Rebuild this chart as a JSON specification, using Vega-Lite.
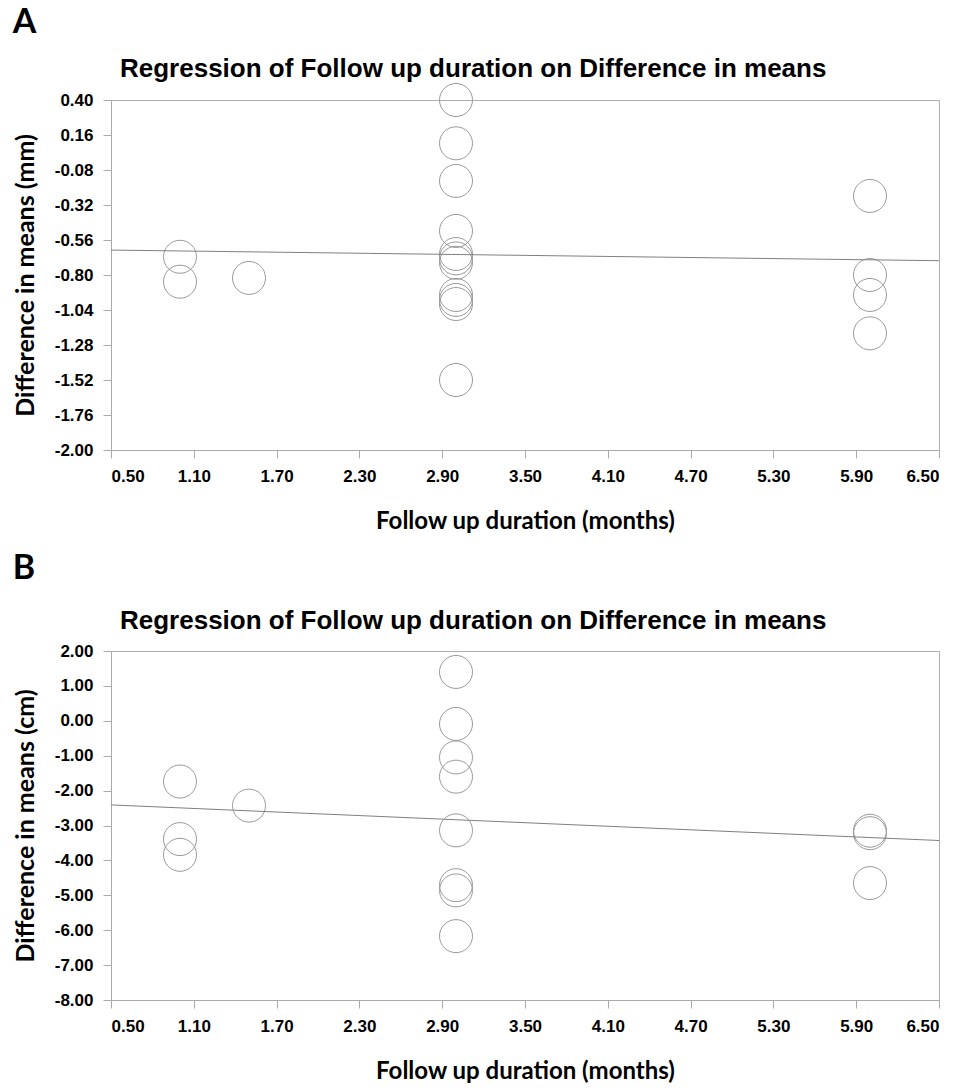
{
  "$schema": "https://vega.github.io/schema/vega-lite/v6.json",
  "background": "white",
  "padding": {"left": 12, "top": 6, "right": 25, "bottom": 2},
  "spacing": 17,
  "config": {
    "view": {"stroke": "#b0b0b0", "strokeWidth": 1},
    "axis": {
      "labelFont": "Liberation Sans",
      "labelFontSize": 17,
      "labelFontWeight": "bold",
      "labelColor": "#000000",
      "titleFont": "Lato",
      "titleFontSize": 24,
      "titleFontWeight": "bold",
      "titleColor": "#000000",
      "domainColor": "#aaaaaa",
      "tickColor": "#aaaaaa",
      "tickSize": 8,
      "labelPadding": 10,
      "grid": false
    }
  },
  "vconcat": [
    {
      "title": {"text": "A", "anchor": "start", "frame": "bounds", "font": "Lato", "fontSize": 34, "fontWeight": "bold", "color": "#000000", "offset": 15},
      "vconcat": [
        {
          "width": 828,
          "height": 350,
          "title": {"text": "Regression of Follow up duration on Difference in means", "anchor": "start", "frame": "group", "dx": 9, "offset": 0, "font": "Liberation Sans", "fontSize": 26, "fontWeight": "bold", "color": "#000000"},
          "encoding": {
            "x": {"field": "duration", "type": "quantitative", "scale": {"domain": [0.5, 6.5], "nice": false, "zero": false},
              "axis": {"title": "Follow up duration (months)", "titlePadding": 25, "values": [0.5, 1.1, 1.7, 2.3, 2.9, 3.5, 4.1, 4.7, 5.3, 5.9, 6.5], "labelExpr": "replace(format(datum.value, '.2f'), '−', '-')"}},
            "y": {"field": "diff", "type": "quantitative", "scale": {"domain": [-2.0, 0.4], "nice": false, "zero": false},
              "axis": {"title": "Difference in means (mm)", "titleFontSize": 25, "titlePadding": 16, "values": [-2.0, -1.76, -1.52, -1.28, -1.04, -0.8, -0.56, -0.32, -0.08, 0.16, 0.4], "labelExpr": "replace(format(datum.value, '.2f'), '−', '-')"}}
          },
          "layer": [
            {
              "data": {"values": [
                {"duration": 1.0, "diff": -0.675},
                {"duration": 1.0, "diff": -0.846},
                {"duration": 1.5, "diff": -0.82},
                {"duration": 3.0, "diff": 0.40},
                {"duration": 3.0, "diff": 0.103},
                {"duration": 3.0, "diff": -0.155},
                {"duration": 3.0, "diff": -0.498},
                {"duration": 3.0, "diff": -0.656},
                {"duration": 3.0, "diff": -0.686},
                {"duration": 3.0, "diff": -0.716},
                {"duration": 3.0, "diff": -0.937},
                {"duration": 3.0, "diff": -0.971},
                {"duration": 3.0, "diff": -0.999},
                {"duration": 3.0, "diff": -1.52},
                {"duration": 6.0, "diff": -0.258},
                {"duration": 6.0, "diff": -0.80},
                {"duration": 6.0, "diff": -0.937},
                {"duration": 6.0, "diff": -1.20}
              ]},
              "mark": {"type": "point", "shape": "circle", "filled": false, "size": 1089, "stroke": "#9a9a9a", "strokeWidth": 1, "opacity": 1}
            },
            {
              "data": {"values": [
                {"duration": 0.5, "diff": -0.629},
                {"duration": 6.5, "diff": -0.702}
              ]},
              "mark": {"type": "line", "color": "#808080", "strokeWidth": 1}
            }
          ]
        }
      ]
    },
    {
      "title": {"text": "B", "anchor": "start", "frame": "bounds", "font": "Lato", "fontSize": 34, "fontWeight": "bold", "color": "#000000", "offset": 22},
      "vconcat": [
        {
          "width": 828,
          "height": 349,
          "title": {"text": "Regression of Follow up duration on Difference in means", "anchor": "start", "frame": "group", "dx": 9, "offset": 8, "font": "Liberation Sans", "fontSize": 26, "fontWeight": "bold", "color": "#000000"},
          "encoding": {
            "x": {"field": "duration", "type": "quantitative", "scale": {"domain": [0.5, 6.5], "nice": false, "zero": false},
              "axis": {"title": "Follow up duration (months)", "titlePadding": 25, "values": [0.5, 1.1, 1.7, 2.3, 2.9, 3.5, 4.1, 4.7, 5.3, 5.9, 6.5], "labelExpr": "replace(format(datum.value, '.2f'), '−', '-')"}},
            "y": {"field": "diff", "type": "quantitative", "scale": {"domain": [-8.0, 2.0], "nice": false, "zero": false},
              "axis": {"title": "Difference in means (cm)", "titleFontSize": 25, "titlePadding": 16, "values": [-8, -7, -6, -5, -4, -3, -2, -1, 0, 1, 2], "labelExpr": "replace(format(datum.value, '.2f'), '−', '-')"}}
          },
          "layer": [
            {
              "data": {"values": [
                {"duration": 1.0, "diff": -1.74},
                {"duration": 1.0, "diff": -3.39},
                {"duration": 1.0, "diff": -3.84},
                {"duration": 1.5, "diff": -2.43},
                {"duration": 3.0, "diff": 1.40},
                {"duration": 3.0, "diff": -0.09},
                {"duration": 3.0, "diff": -1.05},
                {"duration": 3.0, "diff": -1.60},
                {"duration": 3.0, "diff": -3.14},
                {"duration": 3.0, "diff": -4.71},
                {"duration": 3.0, "diff": -4.86},
                {"duration": 3.0, "diff": -6.17},
                {"duration": 6.0, "diff": -3.15},
                {"duration": 6.0, "diff": -3.22},
                {"duration": 6.0, "diff": -4.65}
              ]},
              "mark": {"type": "point", "shape": "circle", "filled": false, "size": 1089, "stroke": "#9a9a9a", "strokeWidth": 1, "opacity": 1}
            },
            {
              "data": {"values": [
                {"duration": 0.5, "diff": -2.41},
                {"duration": 6.5, "diff": -3.43}
              ]},
              "mark": {"type": "line", "color": "#808080", "strokeWidth": 1}
            }
          ]
        }
      ]
    }
  ]
}
